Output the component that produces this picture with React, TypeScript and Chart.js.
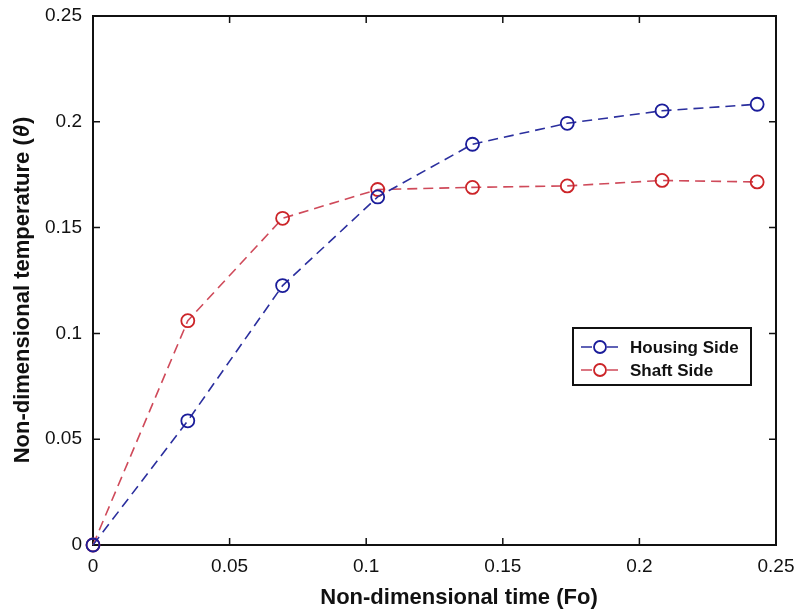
import React, { useEffect, useRef } from "react";
import { Chart, registerables } from "chart.js";

Chart.register(...registerables);

const foValues = [0, 0.0347, 0.0694, 0.1042, 0.1389, 0.1736, 0.2083, 0.2431];
const housingSide = [0, 0.0587, 0.1226, 0.1645, 0.1894, 0.1993, 0.2052, 0.2083];
const shaftSide = [0, 0.106, 0.1544, 0.168, 0.169, 0.1697, 0.1723, 0.1716];
const xTickValues = [0, 0.05, 0.1, 0.15, 0.2, 0.25];
const yTickValues = [0, 0.05, 0.1, 0.15, 0.2, 0.25];
const seriesNames = ["Housing Side", "Shaft Side"];
const xTitle = "Non-dimensional time (Fo)";
const yTitleMain = "Non-dimensional temperature (";
const yTitleSymbol = "\u03B8";
const yTitleEnd = ")";

const BLUE_LINE = "#2b2f9e";
const BLUE_POINT = "#1a1c9a";
const RED_LINE = "#cf4a5a";
const RED_POINT = "#cc2428";
const FONT = "'Liberation Sans', Arial, Helvetica, sans-serif";

const fmt = (v: number) => String(Number(v.toFixed(2)));

const framePlugin = {
  id: "frame",
  beforeDatasetsDraw(chart: any) {
    const { ctx, chartArea } = chart;
    const { left, right, top, bottom } = chartArea;
    const xs = chart.scales.x;
    const ys = chart.scales.y;
    ctx.save();
    ctx.strokeStyle = "#111";
    ctx.lineWidth = 2;
    ctx.strokeRect(left, top, right - left, bottom - top);
    ctx.lineWidth = 1.5;
    const tl = 7;
    ctx.beginPath();
    xTickValues.forEach((v) => {
      const px = xs.getPixelForValue(v);
      ctx.moveTo(px, bottom);
      ctx.lineTo(px, bottom - tl);
      ctx.moveTo(px, top);
      ctx.lineTo(px, top + tl);
    });
    yTickValues.forEach((v) => {
      const py = ys.getPixelForValue(v);
      ctx.moveTo(left, py);
      ctx.lineTo(left + tl, py);
      ctx.moveTo(right, py);
      ctx.lineTo(right - tl, py);
    });
    ctx.stroke();
    ctx.restore();
  },
  afterDraw(chart: any) {
    const { ctx } = chart;
    ctx.save();
    ctx.fillStyle = "#111";
    ctx.font = `bold 22px ${FONT}`;
    ctx.textAlign = "center";
    ctx.textBaseline = "middle";
    ctx.fillText(xTitle, 459, 598);

    // y title, with italic theta
    ctx.translate(23, 290);
    ctx.rotate(-Math.PI / 2);
    const boldF = `bold 22px ${FONT}`;
    const italF = `italic bold 22px ${FONT}`;
    ctx.font = boldF;
    const w1 = ctx.measureText(yTitleMain).width;
    const w3 = ctx.measureText(yTitleEnd).width;
    ctx.font = italF;
    const w2 = ctx.measureText(yTitleSymbol).width + 2;
    const total = w1 + w2 + w3;
    let x0 = -total / 2;
    ctx.textAlign = "left";
    ctx.font = boldF;
    ctx.fillText(yTitleMain, x0, 0);
    ctx.font = italF;
    ctx.fillText(yTitleSymbol, x0 + w1 + 1, 0);
    ctx.font = boldF;
    ctx.fillText(yTitleEnd, x0 + w1 + w2, 0);
    ctx.restore();

    // legend
    const bx = 573, by = 328, bw = 178, bh = 57;
    ctx.save();
    ctx.fillStyle = "#fff";
    ctx.fillRect(bx, by, bw, bh);
    ctx.strokeStyle = "#111";
    ctx.lineWidth = 2;
    ctx.strokeRect(bx, by, bw, bh);
    const rows = [
      { name: seriesNames[0], line: BLUE_LINE, point: BLUE_POINT, y: by + 19 },
      { name: seriesNames[1], line: RED_LINE, point: RED_POINT, y: by + 42 },
    ];
    rows.forEach((r) => {
      ctx.strokeStyle = r.line;
      ctx.lineWidth = 1.5;
      ctx.beginPath();
      ctx.moveTo(bx + 8, r.y);
      ctx.lineTo(bx + 19, r.y);
      ctx.moveTo(bx + 34, r.y);
      ctx.lineTo(bx + 45, r.y);
      ctx.stroke();
      ctx.strokeStyle = r.point;
      ctx.lineWidth = 1.8;
      ctx.beginPath();
      ctx.arc(bx + 27, r.y, 6, 0, Math.PI * 2);
      ctx.stroke();
      ctx.fillStyle = "#111";
      ctx.font = `bold 17px ${FONT}`;
      ctx.textAlign = "left";
      ctx.textBaseline = "middle";
      ctx.fillText(r.name, bx + 57, r.y + 1);
    });
    ctx.restore();
  },
};

export default function App() {
  const canvasRef = useRef<HTMLCanvasElement | null>(null);

  useEffect(() => {
    document.body.style.margin = "0";
    const canvas = canvasRef.current;
    if (!canvas) return;
    const chart = new Chart(canvas, {
      type: "line",
      data: {
        datasets: [
          {
            label: seriesNames[0],
            data: foValues.map((x, i) => ({ x, y: housingSide[i] })),
            borderColor: BLUE_LINE,
            borderWidth: 1.6,
            borderDash: [10, 6],
            pointRadius: 6.5,
            pointBorderWidth: 1.8,
            pointBorderColor: BLUE_POINT,
            pointBackgroundColor: "rgba(0,0,0,0)",
            tension: 0,
            fill: false,
            clip: false as any,
          },
          {
            label: seriesNames[1],
            data: foValues.map((x, i) => ({ x, y: shaftSide[i] })),
            borderColor: RED_LINE,
            borderWidth: 1.6,
            borderDash: [10, 6],
            pointRadius: 6.5,
            pointBorderWidth: 1.8,
            pointBorderColor: RED_POINT,
            pointBackgroundColor: "rgba(0,0,0,0)",
            tension: 0,
            fill: false,
            clip: false as any,
          },
        ],
      },
      options: {
        animation: false,
        responsive: false,
        maintainAspectRatio: false,
        layout: { padding: { top: 16, right: 24, left: 0, bottom: 0 } },
        plugins: {
          legend: { display: false },
          tooltip: { enabled: false },
        },
        scales: {
          x: {
            type: "linear",
            min: 0,
            max: 0.25,
            grid: { display: false, drawTicks: false },
            border: { display: false },
            afterBuildTicks: (s: any) => {
              s.ticks = xTickValues.map((v) => ({ value: v }));
            },
            afterFit: (s: any) => {
              s.height = 69;
              s.paddingLeft = 0;
              s.paddingRight = 0;
            },
            ticks: {
              padding: 10,
              color: "#111",
              maxRotation: 0,
              font: { family: FONT, size: 19 },
              callback: (v: any) => fmt(Number(v)),
            },
          },
          y: {
            type: "linear",
            min: 0,
            max: 0.25,
            grid: { display: false, drawTicks: false },
            border: { display: false },
            afterBuildTicks: (s: any) => {
              s.ticks = yTickValues.map((v) => ({ value: v }));
            },
            afterFit: (s: any) => {
              s.width = 93;
              s.paddingTop = 0;
              s.paddingBottom = 0;
            },
            ticks: {
              padding: 11,
              color: "#111",
              font: { family: FONT, size: 19 },
              callback: (v: any) => fmt(Number(v)),
            },
          },
        },
      },
      plugins: [framePlugin],
    });
    return () => chart.destroy();
  }, []);

  return (
    <div style={{ width: 800, height: 614, background: "#fff" }}>
      <canvas ref={canvasRef} width={800} height={614} style={{ display: "block" }} />
    </div>
  );
}
